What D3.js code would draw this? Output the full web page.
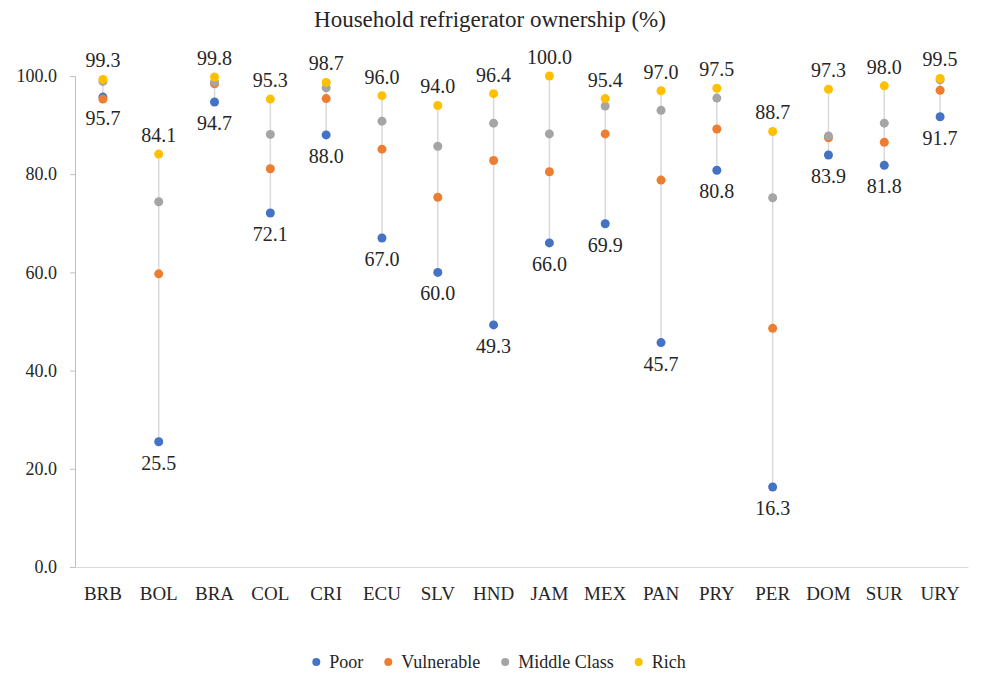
<!DOCTYPE html>
<html>
<head>
<meta charset="utf-8">
<script src="https://cdn.jsdelivr.net/npm/d3@7"></script>
<style>
  body { margin: 0; background: #fff; }
</style>
</head>
<body>
<div id="chart"></div>
<script>
// Data
const countries = ['BRB','BOL','BRA','COL','CRI','ECU','SLV','HND','JAM','MEX','PAN','PRY','PER','DOM','SUR','URY']
const poor       = [95.7, 25.5, 94.7, 72.1, 88.0, 67.0, 60.0, 49.3, 66.0, 69.9, 45.7, 80.8, 16.3, 83.9, 81.8, 91.7]
const vulnerable = [95.3, 59.7, 98.4, 81.1, 95.4, 85.1, 75.3, 82.8, 80.5, 88.2, 78.8, 89.2, 48.6, 87.4, 86.5, 97.1]
const middle     = [98.9, 74.4, 98.8, 88.1, 97.6, 90.8, 85.7, 90.4, 88.2, 93.9, 93.0, 95.5, 75.2, 87.8, 90.4, 99.2]
const rich       = [99.3, 84.1, 99.8, 95.3, 98.7, 96.0, 94.0, 96.4, 100.0, 95.4, 97.0, 97.5, 88.7, 97.3, 98.0, 99.5]
const yTicks = [0, 20, 40, 60, 80, 100]

const seriesNames = ['Poor','Vulnerable','Middle Class','Rich']
const seriesData = [poor, vulnerable, middle, rich]
const colors = ['#4472C4','#ED7D31','#A5A5A5','#FFC000']

const FONT = "'Liberation Serif', 'Times New Roman', serif"

var width = 981, height = 680
var margin = {top: 76, right: 13, bottom: 113, left: 75}

var svg = d3.select('#chart').append('svg')
    .attr('width', width)
    .attr('height', height)

var x = d3.scaleBand()
    .domain(countries)
    .range([margin.left, width - margin.right])

var y = d3.scaleLinear()
    .domain([0, 100])
    .range([height - margin.bottom, margin.top])

// Title
svg.append('text')
    .attr('x', 490).attr('y', 27)
    .attr('text-anchor', 'middle')
    .style('font-family', FONT)
    .style('font-size', '23px')
    .style('fill', '#262626')
    .text('Household refrigerator ownership (%)')

// Y axis
var yAxis = svg.append('g')
    .attr('transform', 'translate(' + margin.left + ',0)')
    .call(d3.axisLeft(y).tickValues(yTicks).tickFormat(d3.format('.1f')).tickSize(5).tickPadding(13))
yAxis.attr('font-family', null)
yAxis.select('.domain').attr('stroke', '#bfbfbf')
yAxis.selectAll('.tick line').attr('stroke', '#bfbfbf')
yAxis.selectAll('.tick text')
    .style('font-family', FONT).style('font-size', '18px').style('fill', '#262626')

// X axis
var xAxis = svg.append('g')
    .attr('transform', 'translate(0,' + y(0) + ')')
    .call(d3.axisBottom(x).tickSize(0).tickPadding(20))
xAxis.attr('font-family', null)
xAxis.select('.domain').attr('stroke', '#d9d9d9')
xAxis.selectAll('.tick text')
    .style('font-family', FONT).style('font-size', '19px').style('fill', '#262626')

// Vertical range lines
var cx = c => x(c) + x.bandwidth() / 2
svg.append('g').selectAll('line')
    .data(countries)
  .enter().append('line')
    .attr('x1', cx).attr('x2', cx)
    .attr('y1', (d, i) => y(d3.min(seriesData, s => s[i])))
    .attr('y2', (d, i) => y(d3.max(seriesData, s => s[i])))
    .attr('stroke', '#d9d9d9')
    .attr('stroke-width', 1.5)

// Dots
seriesData.forEach((s, k) => {
  svg.append('g').selectAll('circle')
      .data(countries)
    .enter().append('circle')
      .attr('cx', cx)
      .attr('cy', (d, i) => y(s[i]))
      .attr('r', 4.5)
      .attr('fill', colors[k])
})

// Labels: rich above, poor below
svg.append('g').selectAll('text')
    .data(countries)
  .enter().append('text')
    .attr('x', cx)
    .attr('y', (d, i) => y(rich[i]) - 12)
    .attr('text-anchor', 'middle')
    .style('font-family', FONT).style('font-size', '20px').style('fill', '#262626')
    .text((d, i) => rich[i].toFixed(1))

svg.append('g').selectAll('text')
    .data(countries)
  .enter().append('text')
    .attr('x', cx)
    .attr('y', (d, i) => y(poor[i]) + 28)
    .attr('text-anchor', 'middle')
    .style('font-family', FONT).style('font-size', '20px').style('fill', '#262626')
    .text((d, i) => poor[i].toFixed(1))

// Legend (laid out from measured text widths, centred)
var legend = svg.append('g')
var items = legend.selectAll('g')
    .data(seriesNames)
  .enter().append('g')
items.append('circle').attr('r', 4).attr('fill', (d, i) => colors[i])
items.append('text').attr('x', 13).attr('y', 6)
    .style('font-family', FONT).style('font-size', '18px').style('fill', '#262626')
    .text(d => d)
var offset = 0, offsets = []
items.each(function() {
  offsets.push(offset)
  offset += 13 + this.querySelector('text').getComputedTextLength() + 25
})
offset -= 25
items.attr('transform', (d, i) => 'translate(' + (offsets[i] + 4) + ',0)')
legend.attr('transform', 'translate(' + (497 - offset / 2) + ',662)')
</script>
</body>
</html>
